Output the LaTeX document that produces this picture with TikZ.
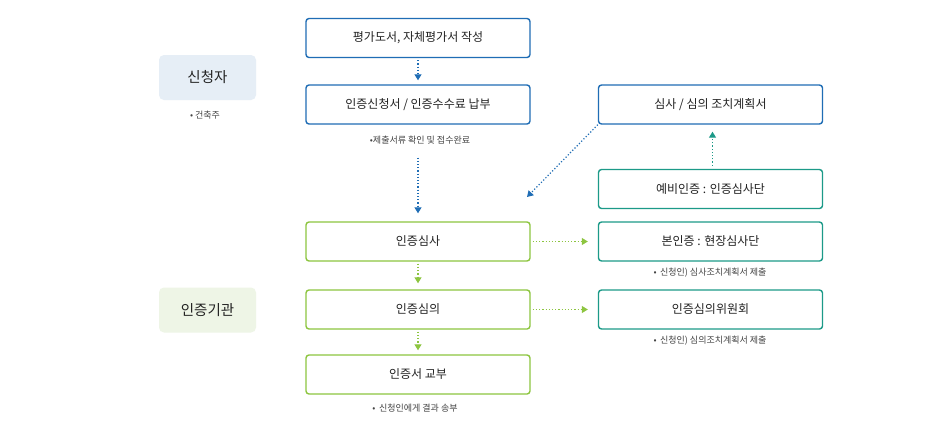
\documentclass[tikz,border=0pt]{standalone}
\usepackage{fontspec}
\setmainfont{Noto Sans CJK KR}
\usetikzlibrary{arrows.meta,calc}
\definecolor{bl}{HTML}{1F6DB5}
\definecolor{gr}{HTML}{8DC540}
\definecolor{te}{HTML}{1C9A88}
\definecolor{lb}{HTML}{E6EEF6}
\definecolor{lg}{HTML}{EEF5E6}
\definecolor{tx}{HTML}{222222}
\begin{document}
\begin{tikzpicture}[x=1pt,y=-1pt,
 box/.style={draw=#1,line width=1.4pt,rounded corners=3pt,minimum width=224pt,minimum height=39pt,font=\fontsize{12}{14}\selectfont,text=tx,inner sep=0pt},
 side/.style={fill=#1,rounded corners=5pt,minimum width=97pt,minimum height=45pt,font=\fontsize{14.5}{16}\selectfont,text=tx,inner sep=0pt},
 note/.style={font=\fontsize{9}{11}\selectfont,text=tx!85},
 arr/.style={draw=#1,dotted,line width=1.2pt,-{Triangle[length=6pt,width=7pt]}}]
\useasboundingbox (0,0) rectangle (950,434);
\fill[white] (0,0) rectangle (950,434);
\node[side=lb] (s1) at (207.5,77.5) {신청자};
\node[note] (s1n) at (205,115) {• 건축주};
\node[side=lg] (s2) at (207.5,310) {인증기관};
\node[box=bl] (a) at (418,38) {평가도서, 자체평가서 작성};
\node[box=bl] (b) at (418,104.5) {인증신청서 / 인증수수료 납부};
\node[note] (bn) at (420,140) {•제출서류 확인 및 접수완료};
\node[box=gr] (c) at (418,241.5) {인증심사};
\node[box=gr] (d) at (418,309.5) {인증심의};
\node[box=gr] (e) at (418,374.5) {인증서 교부};
\node[note] (en) at (415,408) {•\, 신청인에게 결과 송부};
\node[box=bl] (r1) at (710.5,104.5) {심사 / 심의 조치계획서};
\node[box=te] (r2) at (710.5,189) {예비인증 : 인증심사단};
\node[box=te] (r3) at (710.5,241.5) {본인증 : 현장심사단};
\node[note] (r3n) at (710,273) {•\, 신청인) 심사조치계획서 제출};
\node[box=te] (r4) at (710.5,309.5) {인증심의위원회};
\node[note] (r4n) at (710,341) {•\, 신청인) 심의조치계획서 제출};
\coordinate (cin) at (527,197);
\draw[arr=bl] ($(a.south)+(0,2)$) -- ($(b.north)+(0,-4)$);
\draw[arr=bl] ($(bn.south)+(-2,10)$) -- ($(c.north)+(0,-8)$);
\draw[arr=bl] (r1.south west) -- (cin);
\draw[arr=te] ($(r2.north)+(2,-3)$) -- ($(r1.south)+(2,7)$);
\draw[arr=gr] ($(c.east)+(2,0)$) -- ($(r3.west)+(-10,0)$);
\draw[arr=gr] ($(d.east)+(2,0)$) -- ($(r4.west)+(-10,0)$);
\draw[arr=gr] ($(c.south)+(0,2)$) -- ($(d.north)+(0,-6)$);
\draw[arr=gr] ($(d.south)+(0,2)$) -- ($(e.north)+(0,-4)$);
\end{tikzpicture}
\end{document}
